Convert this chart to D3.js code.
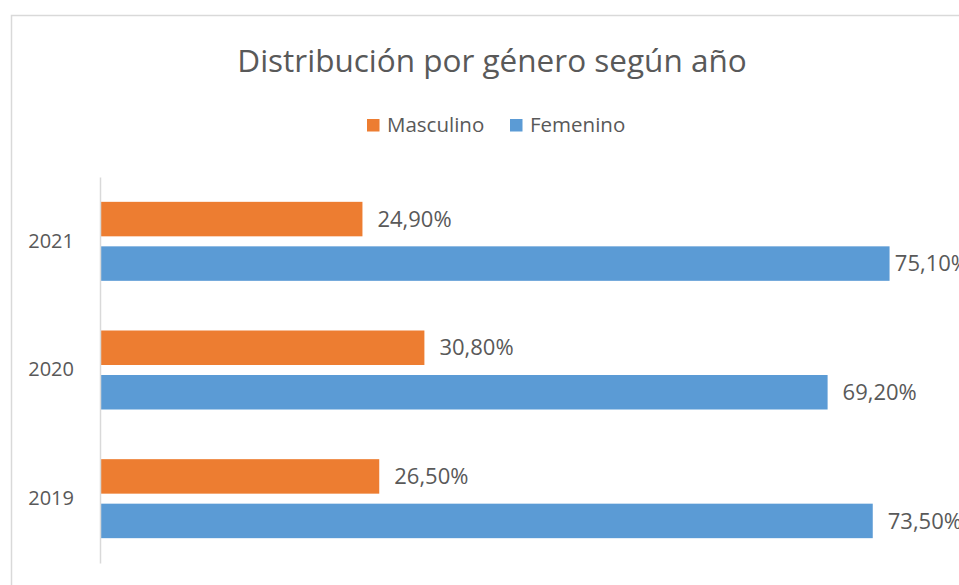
<!DOCTYPE html>
<html>
<head>
<meta charset="utf-8">
<script src="https://cdn.jsdelivr.net/npm/d3@7"></script>
<style>
  html, body { margin: 0; padding: 0; background: #fff; }
  svg { display: block; font-family: "Open Sans", "Noto Sans", sans-serif; }
</style>
</head>
<body>
<svg id="chart" width="959" height="585"></svg>
<script>
const title = "Distribución por género según año";
const years = ["2021", "2020", "2019"];
const seriesNames = ["Masculino", "Femenino"];
const masculino = [24.9, 30.8, 26.5];
const femenino = [75.1, 69.2, 73.5];
const colors = ["#ED7D31", "#5B9BD5"];

const svg = d3.select("#chart");
const textColor = "#595959";

// chart border
svg.append("rect")
  .attr("x", 11.5).attr("y", 15.5)
  .attr("width", 1000).attr("height", 1000)
  .attr("fill", "#fff").attr("stroke", "#d9d9d9").attr("stroke-width", 1.5);

// title
svg.append("text")
  .attr("x", 492).attr("y", 72)
  .attr("text-anchor", "middle")
  .attr("font-size", 31.5)
  .attr("fill", textColor)
  .text(title);

// legend
const legendItems = [
  { name: seriesNames[0], color: colors[0], x: 367 },
  { name: seriesNames[1], color: colors[1], x: 510 }
];
const lg = svg.append("g");
legendItems.forEach(d => {
  lg.append("rect").attr("x", d.x).attr("y", 119).attr("width", 12.5).attr("height", 12.5).attr("fill", d.color);
  lg.append("text").attr("x", d.x + 20).attr("y", 132).attr("font-size", 20.5).attr("fill", textColor).text(d.name);
});

// scales
const y = d3.scaleBand().domain(years).range([177, 563]);
const sub = d3.scaleBand().domain(seriesNames).range([-39.5, 39.5]).paddingInner(0.225);
const x = d3.scaleLinear().domain([0, 80]).range([101, 941]);

const data = years.map((yr, i) => ({
  year: yr,
  values: [
    { series: seriesNames[0], value: masculino[i], color: colors[0] },
    { series: seriesNames[1], value: femenino[i], color: colors[1] }
  ]
}));

const groups = svg.append("g").selectAll("g")
  .data(data).join("g")
  .attr("transform", d => `translate(0,${y(d.year) + y.bandwidth() / 2})`);

groups.selectAll("rect")
  .data(d => d.values).join("rect")
  .attr("x", x(0))
  .attr("y", d => sub(d.series))
  .attr("width", d => x(d.value) - x(0))
  .attr("height", sub.bandwidth())
  .attr("fill", d => d.color);

const fmt = v => v.toFixed(2).replace(".", ",") + "%";
const chartRight = 969;
groups.selectAll("text.lbl")
  .data(d => d.values).join("text")
  .attr("class", "lbl")
  .attr("y", d => sub(d.series) + sub.bandwidth() / 2)
  .attr("dy", "0.35em")
  .attr("font-size", 22)
  .attr("fill", textColor)
  .text(d => fmt(d.value))
  .each(function(d) {
    const w = this.getComputedTextLength();
    const px = Math.min(x(d.value) + 15, chartRight - w);
    d3.select(this).attr("x", px);
  });

// axis (vertical category axis)
const axis = d3.axisLeft(y).tickSize(0).tickPadding(26);
const ag = svg.append("g").attr("transform", `translate(${x(0) - 1},0)`).call(axis);
ag.select(".domain").attr("stroke", "#d9d9d9").attr("stroke-width", 1.5);
ag.selectAll("text")
  .attr("font-size", 20)
  .attr("fill", textColor)
  .attr("font-family", "'Open Sans', 'Noto Sans', sans-serif");
</script>
</body>
</html>
